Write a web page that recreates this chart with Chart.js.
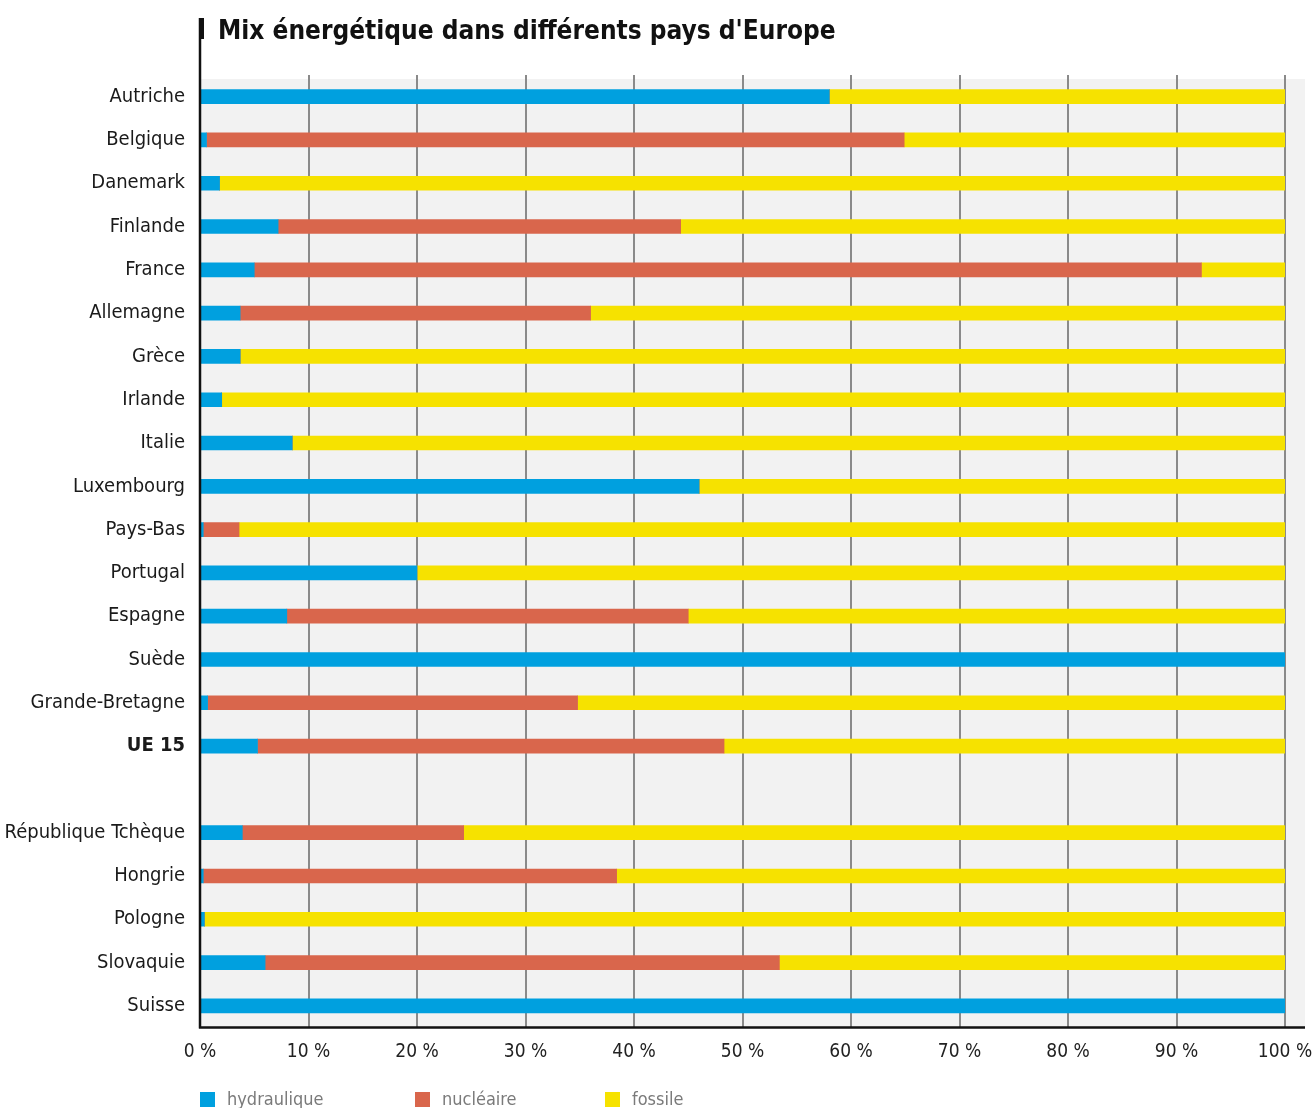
<!DOCTYPE html>
<html>
<head>
<meta charset="utf-8">
<script src="https://cdn.jsdelivr.net/npm/chart.js@4.4.1/dist/chart.umd.min.js"></script>
<style>
body{margin:0;background:#fff}
canvas{display:block}
</style>
</head>
<body>
<canvas id="mixChart" width="1313" height="1108"></canvas>
<script>
const pays = ["Autriche","Belgique","Danemark","Finlande","France","Allemagne","Grèce","Irlande","Italie","Luxembourg","Pays-Bas","Portugal","Espagne","Suède","Grande-Bretagne","UE 15","","République Tchèque","Hongrie","Pologne","Slovaquie","Suisse"]

// parts en % de la production d'électricité
const hydraulique = [58.0,0.6,1.8,7.2,5.0,3.7,3.7,2.0,8.5,46.0,0.3,20.0,8.0,100,0.7,5.3,null,3.9,0.3,0.4,6.0,100]
const nucleaire   = [0,64.3,0,37.1,87.3,32.3,0,0,0,0,3.3,0,37.0,0,34.1,43.0,null,20.4,38.1,0,47.4,0]
const fossile     = [42.0,35.1,98.2,55.7,7.7,64.0,96.3,98.0,91.5,54.0,96.4,80.0,55.0,0,65.2,51.7,null,75.7,61.6,99.6,46.6,0]

const xTicks = ["0 %","10 %","20 %","30 %","40 %","50 %","60 %","70 %","80 %","90 %","100 %"]

const titre = "Mix énergétique dans différents pays d'Europe"
const FONT = '"Liberation Sans Narrow", "DejaVu Sans Condensed", "Arial Narrow", sans-serif'

// fond gris, axes noirs, titre et légende
const decor = {
id:"decor",
beforeDraw(chart){
const {ctx, chartArea:a} = chart
ctx.save()
ctx.fillStyle = "#f2f2f2"
ctx.fillRect(a.left, a.top + 4, a.right - a.left + 20, a.bottom - a.top - 4)
ctx.restore()
},
afterDatasetsDraw(chart){
const {ctx, chartArea:a} = chart
ctx.save()
ctx.strokeStyle = "#111"
ctx.lineWidth = 2.5
ctx.beginPath()
ctx.moveTo(a.left, 18)
ctx.lineTo(a.left, a.bottom + 1)
ctx.moveTo(a.left - 1, a.bottom)
ctx.lineTo(a.right + 20, a.bottom)
ctx.stroke()
ctx.fillStyle = "#111"
ctx.fillRect(a.left - 1, 18, 5, 21)

ctx.font = "bold 26px " + FONT
ctx.fillStyle = "#111"
ctx.textBaseline = "alphabetic"
ctx.textAlign = "left"
ctx.fillText(titre, 218, 39)

// légende
const legX = [200, 415, 605]
ctx.font = "18px " + FONT
ctx.textBaseline = "middle"
chart.data.datasets.forEach((ds, i) => {
ctx.fillStyle = ds.backgroundColor
ctx.fillRect(legX[i], 1092, 15, 15)
ctx.fillStyle = "#7a7a7a"
ctx.fillText(ds.label, legX[i] + 27, 1100)
})
ctx.restore()
}
}

const ctx = document.getElementById("mixChart")

new Chart(ctx, {
type:"bar",
data:{
labels:pays,
datasets:[
{label:"hydraulique",data:hydraulique,backgroundColor:"#00a0df"},
{label:"nucléaire",data:nucleaire,backgroundColor:"#d9664c"},
{label:"fossile",data:fossile,backgroundColor:"#f6e200"}
]
},
plugins:[decor],
options:{
indexAxis:"y",
responsive:false,
animation:false,
barThickness:14,
layout:{padding:{top:75,right:28,left:0,bottom:0}},
plugins:{
legend:{display:false},
tooltip:{enabled:false}
},
scales:{
x:{
stacked:true,
min:0,
max:100,
afterFit(scale){
scale.height = 80.5
scale.paddingLeft = 0
scale.paddingRight = 0
},
border:{display:false},
grid:{color:"#8a8a8a",lineWidth:2,drawTicks:false},
ticks:{
stepSize:10,
padding:13,
color:"#222",
font:{family:FONT,size:19},
callback:(v, i) => xTicks[i]
}
},
y:{
stacked:true,
afterFit(scale){ scale.width = 200 },
border:{display:false},
grid:{display:false,drawTicks:false},
ticks:{
padding:15,
color:"#1a1a1a",
autoSkip:false,
font:c => ({family:FONT,size:20,weight:pays[c.index] === "UE 15" ? "bold" : "normal"})
}
}
}
}
})
</script>
</body>
</html>
